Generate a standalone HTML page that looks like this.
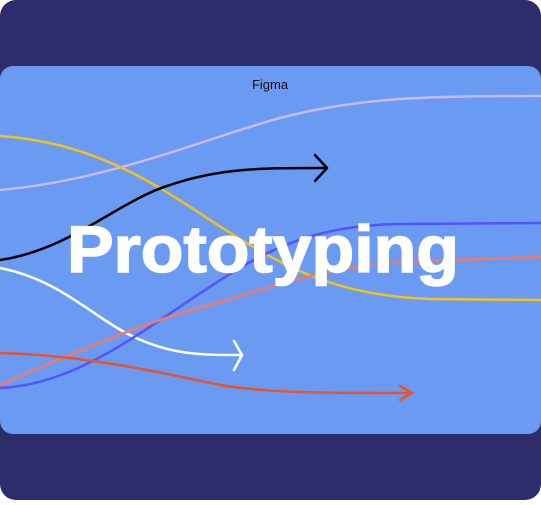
<!DOCTYPE html>
<html><head><style>
html,body{margin:0;padding:0;background:#fff;}
body{width:541px;height:500px;overflow:hidden;}
</style></head><body>
<svg width="541" height="500" viewBox="0 0 541 500" xmlns="http://www.w3.org/2000/svg">
<rect x="0" y="0" width="541" height="500" rx="16" fill="#2c2d6a"/>
<rect x="0" y="66" width="541" height="368" rx="13" fill="#6b9af3"/>
<g fill="none" stroke-width="2.5" stroke-linecap="round" stroke-linejoin="round">
<path d="M0 190 C110 180 200 140 280 118 C360 97 430 96 541 96" stroke="#c9b8f2"/>
<path d="M0 136 C90 142 150 180 210 220 C280 265 330 295 430 299 L541 300" stroke="#f3c218"/>
<path d="M0 260 C70 250 120 200 170 185 C220 168 260 168 327 168" stroke="#000"/>
<path d="M315 155 L327 168 L315 181" stroke="#000"/>
<path d="M0 268 C60 280 90 315 130 335 C170 355 200 355 242 355" stroke="#fff"/>
<path d="M234 341 L242 355 L234 370" stroke="#fff"/>
<path d="M0 388 C70 385 130 340 190 300 C250 260 300 225 400 224 L541 223" stroke="#5353ff"/>
<path d="M0 385 C80 350 150 320 210 305 C280 285 320 268 400 262 L541 257" stroke="#f07a68"/>
<path d="M0 353 C80 355 150 370 220 385 C270 393 320 393 412 393" stroke="#e8542e"/>
<path d="M400 386 L412 393 L400 400" stroke="#e8542e"/>
</g>
<text x="270" y="89" text-anchor="middle" font-family="Liberation Sans, sans-serif" font-size="13" fill="#111">Figma</text>
<text x="67" y="272" textLength="392" lengthAdjust="spacingAndGlyphs" font-family="Liberation Sans, sans-serif" font-weight="bold" font-size="66" fill="#fff" stroke="#fff" stroke-width="1.5">Prototyping</text>
</svg>
</body></html>
